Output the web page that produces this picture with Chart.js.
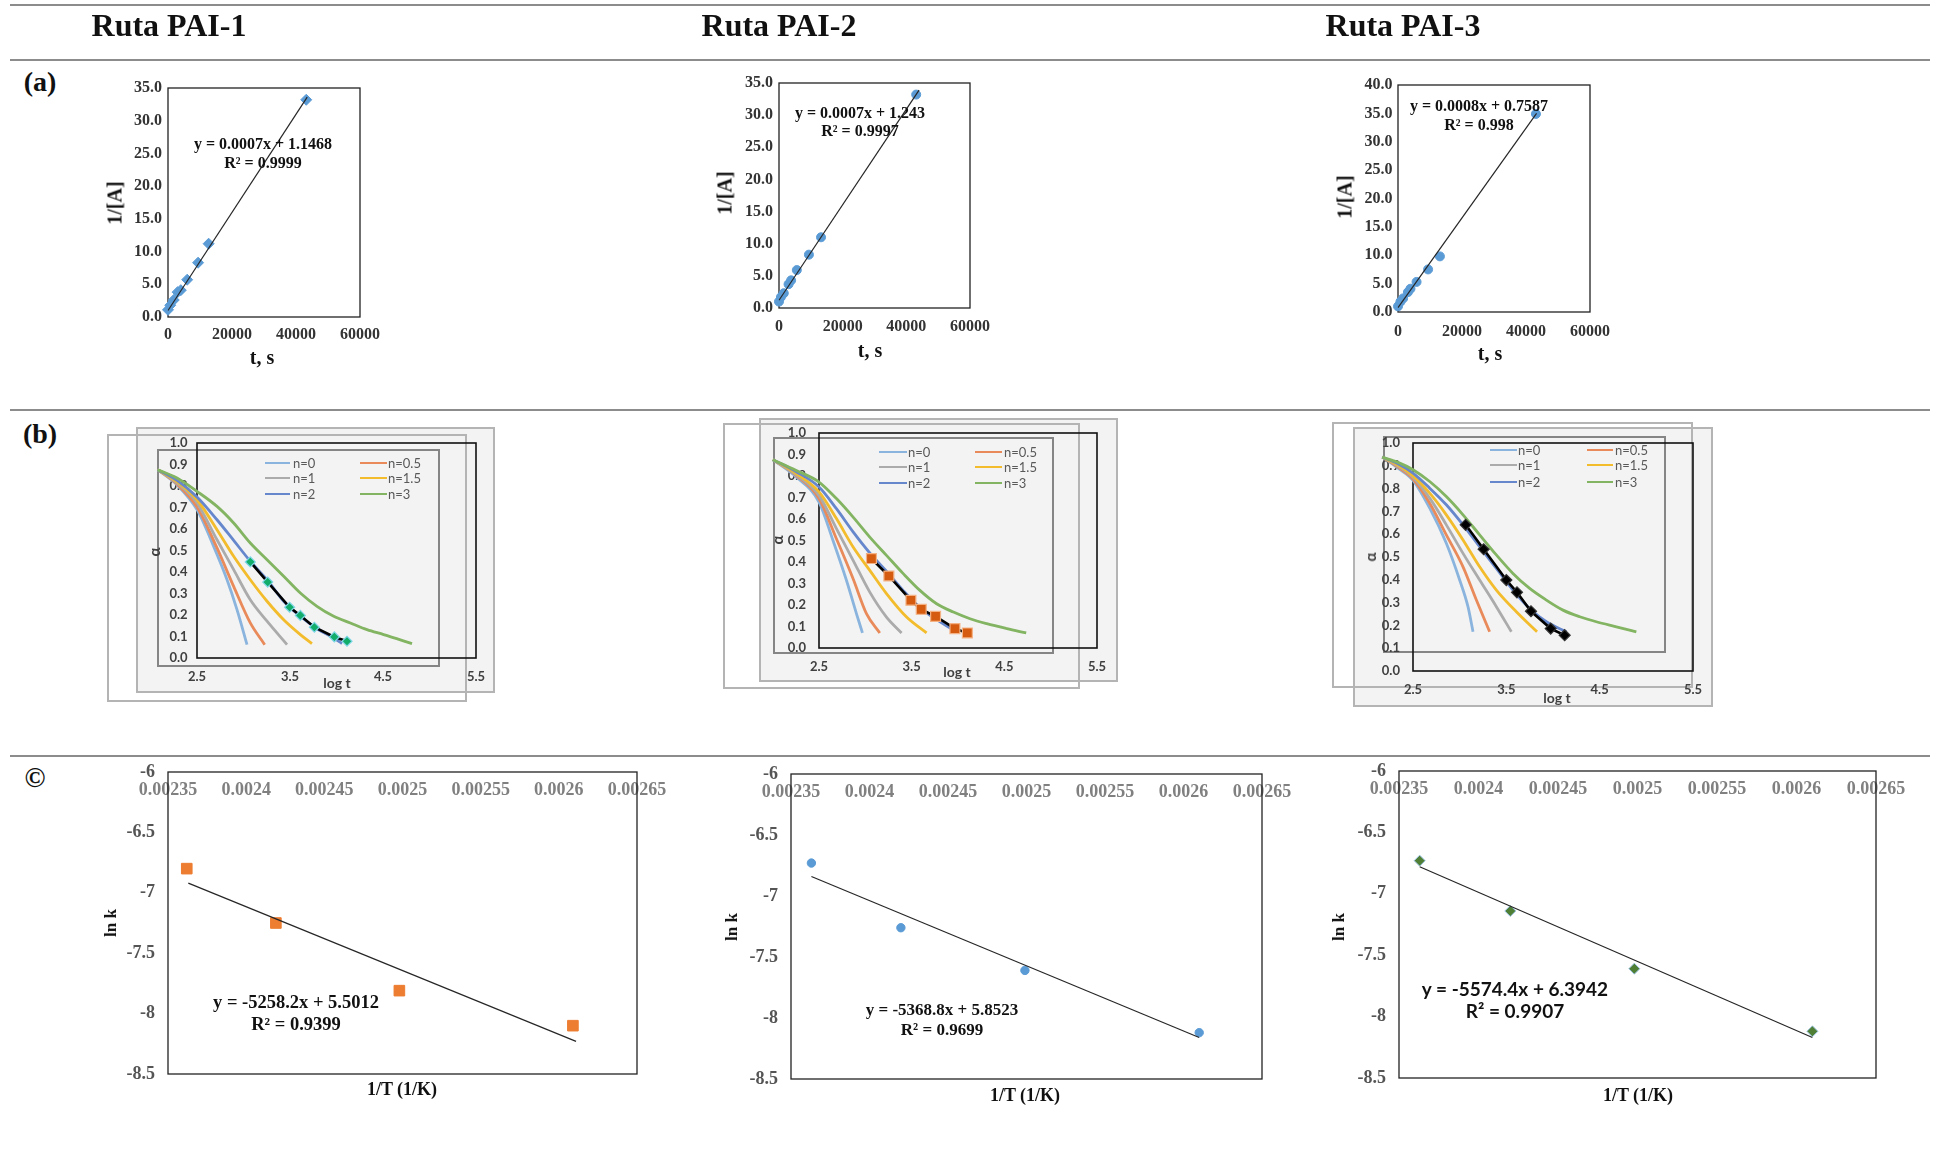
<!DOCTYPE html>
<html lang="es">
<head>
<meta charset="UTF-8">
<title>Cinética - Rutas PAI</title>
<script src="https://cdn.jsdelivr.net/npm/chart.js"></script>
<style>
    body { margin: 0; background: #fff; }
    #page { position: relative; width: 1937px; height: 1149px; overflow: hidden; font-family: "Liberation Serif", "Times New Roman", serif; }
    .hr { position: absolute; left: 10px; width: 1920px; height: 2px; background: #8c8c8c; }
    .txt { position: absolute; transform: translate(-50%, -50%); white-space: nowrap; font-weight: bold; color: #111; z-index: 2; }
    .rot { transform: translate(-50%, -50%) rotate(-90deg); }
    .sans { font-family: Lato, "Liberation Sans", sans-serif; color: #404040; }
    .caja { position: absolute; box-sizing: border-box; z-index: 0; }
    .legline { position: absolute; height: 2.8px; z-index: 2; }
    .legtxt { position: absolute; transform: translateY(-50%); font: 13px Lato, "Liberation Sans", sans-serif; color: #595959; white-space: nowrap; z-index: 2; }
    canvas { position: absolute; z-index: 1; }
</style>
</head>
<body>
<div id="page">
    <!-- lineas de la tabla -->
    <div class="hr" style="top:4px"></div>
    <div class="hr" style="top:59px"></div>
    <div class="hr" style="top:409px"></div>
    <div class="hr" style="top:755px"></div>

    <!-- encabezados -->
    <div class="txt" style="left:169px;top:25px;font-size:32px">Ruta PAI-1</div>
    <div class="txt" style="left:779px;top:25px;font-size:32px">Ruta PAI-2</div>
    <div class="txt" style="left:1403px;top:25px;font-size:32px">Ruta PAI-3</div>
    <div class="txt" style="left:40px;top:82px;font-size:28px">(a)</div>
    <div class="txt" style="left:40px;top:434px;font-size:28px">(b)</div>
    <div class="txt" style="left:35px;top:778px;font-size:28px">©</div>

    <!-- fila (a) -->
    <div class="txt" style="left:263px;top:144px;font-size:16px">y = 0.0007x + 1.1468</div>
    <div class="txt" style="left:263px;top:163px;font-size:16px">R² = 0.9999</div>
    <div class="txt" style="left:860px;top:113px;font-size:16px">y = 0.0007x + 1.243</div>
    <div class="txt" style="left:860px;top:131px;font-size:16px">R² = 0.9997</div>
    <div class="txt" style="left:1479px;top:106px;font-size:16px">y = 0.0008x + 0.7587</div>
    <div class="txt" style="left:1479px;top:125px;font-size:16px">R² = 0.998</div>
    <div class="txt" style="left:262px;top:357px;font-size:20px">t, s</div>
    <div class="txt" style="left:870px;top:350px;font-size:20px">t, s</div>
    <div class="txt" style="left:1490px;top:353px;font-size:20px">t, s</div>
    <div class="txt rot" style="left:115px;top:203px;font-size:20px">1/[A]</div>
    <div class="txt rot" style="left:725px;top:193px;font-size:20px">1/[A]</div>
    <div class="txt rot" style="left:1345px;top:197px;font-size:20px">1/[A]</div>

    <!-- fila (b) -->
    <div class="txt sans" style="left:337px;top:682px;font-size:14px">log t</div>
    <div class="txt sans" style="left:957px;top:671px;font-size:14px">log t</div>
    <div class="txt sans" style="left:1557px;top:697px;font-size:14px">log t</div>
    <div class="txt sans rot" style="left:154px;top:552px;font-size:15px">α</div>
    <div class="txt sans rot" style="left:777px;top:540px;font-size:15px">α</div>
    <div class="txt sans rot" style="left:1370px;top:557px;font-size:15px">α</div>

    <!-- fila (c) -->
    <div class="txt" style="left:296px;top:1002px;font-size:18.5px">y = -5258.2x + 5.5012</div>
    <div class="txt" style="left:296px;top:1024px;font-size:18.5px">R² = 0.9399</div>
    <div class="txt" style="left:942px;top:1010px;font-size:17px">y = -5368.8x + 5.8523</div>
    <div class="txt" style="left:942px;top:1030px;font-size:17px">R² = 0.9699</div>
    <div class="txt sans" style="left:1515px;top:988px;font-size:19px;color:#111">y = -5574.4x + 6.3942</div>
    <div class="txt sans" style="left:1515px;top:1010px;font-size:19px;color:#111">R² = 0.9907</div>
    <div class="txt" style="left:402px;top:1089px;font-size:18px">1/T (1/K)</div>
    <div class="txt" style="left:1025px;top:1095px;font-size:18px">1/T (1/K)</div>
    <div class="txt" style="left:1638px;top:1095px;font-size:18px">1/T (1/K)</div>
    <div class="txt rot" style="left:111px;top:923px;font-size:17px">ln k</div>
    <div class="txt rot" style="left:732px;top:927px;font-size:17px">ln k</div>
    <div class="txt rot" style="left:1339px;top:927px;font-size:17px">ln k</div>
</div>

<script>
    // ---------- Fila (a): 1/[A] frente a t ----------
    const tA1 = [0, 700, 1800, 3000, 4000, 6000, 9400, 12700, 43200];
    const invA1 = [1.1, 1.8, 2.6, 3.8, 4.1, 5.7, 8.3, 11.2, 33.2];
    const tA2 = [0, 600, 1500, 3000, 3800, 5600, 9400, 13200, 43100];
    const invA2 = [1.0, 1.7, 2.3, 3.7, 4.3, 5.9, 8.3, 11.0, 33.2];
    const tA3 = [0, 750, 1600, 3100, 3900, 5800, 9400, 13100, 43100];
    const invA3 = [1.0, 1.8, 2.4, 3.5, 4.1, 5.3, 7.5, 9.8, 34.9];

    // líneas de tendencia (extremos)
    const trendA1X = [0, 43500], trendA1Y = [1.0, 33.6];
    const trendA2X = [0, 44000], trendA2Y = [1.2, 33.9];
    const trendA3X = [0, 43300], trendA3Y = [0.76, 35.0];

    const tickT = [0, 20000, 40000, 60000];
    const labT = ['0', '20000', '40000', '60000'];
    const tickInvA = [0, 5, 10, 15, 20, 25, 30, 35];
    const labInvA = ['0.0', '5.0', '10.0', '15.0', '20.0', '25.0', '30.0', '35.0'];
    const tickInvA3 = [0, 5, 10, 15, 20, 25, 30, 35, 40];
    const labInvA3 = ['0.0', '5.0', '10.0', '15.0', '20.0', '25.0', '30.0', '35.0', '40.0'];

    // ---------- Fila (b): alfa frente a log t ----------
    const nombresN = ['n=0', 'n=0.5', 'n=1', 'n=1.5', 'n=2', 'n=3'];

    const b1LogT = [
        [2.077, 2.285, 2.5, 2.679, 2.823, 2.930, 3.038],
        [2.077, 2.285, 2.5, 2.715, 2.894, 3.073, 3.228],
        [2.077, 2.285, 2.5, 2.715, 2.894, 3.073, 3.253, 3.468],
        [2.077, 2.285, 2.5, 2.715, 2.894, 3.073, 3.253, 3.432, 3.611, 3.736],
        [2.077, 2.285, 2.5, 2.715, 2.894, 3.073, 3.253, 3.432, 3.611, 3.79, 3.97, 4.059],
        [2.077, 2.285, 2.5, 2.715, 2.894, 3.073, 3.253, 3.432, 3.611, 3.79, 3.97, 4.149, 4.328, 4.507, 4.812]
    ];
    const b1Alfa = [
        [0.876, 0.805, 0.690, 0.519, 0.364, 0.225, 0.062],
        [0.876, 0.809, 0.702, 0.512, 0.333, 0.163, 0.062],
        [0.876, 0.814, 0.721, 0.55, 0.411, 0.271, 0.171, 0.062],
        [0.876, 0.820, 0.736, 0.597, 0.473, 0.364, 0.264, 0.178, 0.109, 0.067],
        [0.876, 0.826, 0.749, 0.643, 0.547, 0.450, 0.364, 0.264, 0.194, 0.136, 0.093, 0.067],
        [0.876, 0.837, 0.775, 0.705, 0.628, 0.535, 0.457, 0.38, 0.302, 0.24, 0.194, 0.163, 0.132, 0.109, 0.067]
    ];
    const b1ExpLogT = [3.073, 3.26, 3.496, 3.611, 3.762, 3.977, 4.113];
    const b1ExpAlfa = [0.447, 0.353, 0.236, 0.198, 0.143, 0.098, 0.078];

    const b2LogT = [
        [2.002, 2.255, 2.5, 2.651, 2.796, 2.904, 2.969],
        [2.002, 2.255, 2.5, 2.688, 2.868, 3.012, 3.156],
        [2.002, 2.255, 2.5, 2.688, 2.868, 3.048, 3.228, 3.391],
        [2.002, 2.255, 2.5, 2.688, 2.868, 3.048, 3.228, 3.445, 3.661],
        [2.002, 2.255, 2.5, 2.688, 2.868, 3.048, 3.228, 3.409, 3.589, 3.769, 3.968],
        [2.002, 2.255, 2.5, 2.688, 2.868, 3.048, 3.228, 3.409, 3.589, 3.769, 3.95, 4.13, 4.31, 4.527, 4.736]
    ];
    const b2Alfa = [
        [0.876, 0.795, 0.679, 0.5, 0.315, 0.16, 0.07],
        [0.876, 0.802, 0.695, 0.508, 0.322, 0.16, 0.07],
        [0.876, 0.806, 0.71, 0.555, 0.408, 0.26, 0.144, 0.07],
        [0.876, 0.811, 0.726, 0.602, 0.47, 0.361, 0.253, 0.144, 0.07],
        [0.876, 0.820, 0.749, 0.648, 0.54, 0.442, 0.357, 0.267, 0.188, 0.132, 0.079],
        [0.876, 0.826, 0.772, 0.695, 0.609, 0.516, 0.431, 0.346, 0.268, 0.206, 0.167, 0.136, 0.113, 0.09, 0.07]
    ];
    const b2ExpLogT = [3.066, 3.254, 3.492, 3.603, 3.758, 3.967, 4.101];
    const b2ExpAlfa = [0.416, 0.335, 0.222, 0.18, 0.147, 0.09, 0.07];

    const b3LogT = [
        [2.171, 2.339, 2.5, 2.679, 2.857, 3.0, 3.089, 3.143],
        [2.171, 2.339, 2.5, 2.679, 2.857, 3.036, 3.179, 3.321],
        [2.171, 2.339, 2.5, 2.679, 2.857, 3.036, 3.214, 3.393, 3.554],
        [2.171, 2.339, 2.5, 2.679, 2.857, 3.036, 3.214, 3.393, 3.607, 3.829],
        [2.171, 2.339, 2.5, 2.679, 2.857, 3.036, 3.214, 3.393, 3.571, 3.75, 3.929, 4.143],
        [2.171, 2.339, 2.5, 2.679, 2.857, 3.036, 3.214, 3.393, 3.571, 3.75, 3.929, 4.107, 4.286, 4.464, 4.679, 4.893]
    ];
    const b3Alfa = [
        [0.938, 0.89, 0.836, 0.714, 0.56, 0.399, 0.282, 0.172],
        [0.938, 0.894, 0.842, 0.736, 0.597, 0.457, 0.311, 0.172],
        [0.938, 0.899, 0.85, 0.758, 0.641, 0.516, 0.399, 0.282, 0.172],
        [0.938, 0.903, 0.856, 0.78, 0.685, 0.575, 0.457, 0.355, 0.26, 0.172],
        [0.938, 0.909, 0.868, 0.802, 0.729, 0.641, 0.545, 0.45, 0.355, 0.274, 0.216, 0.172],
        [0.938, 0.915, 0.883, 0.831, 0.765, 0.685, 0.597, 0.509, 0.428, 0.362, 0.311, 0.267, 0.238, 0.216, 0.194, 0.172]
    ];
    const b3ExpLogT = [3.064, 3.257, 3.5, 3.614, 3.764, 3.975, 4.125];
    const b3ExpAlfa = [0.641, 0.534, 0.399, 0.345, 0.262, 0.186, 0.157];

    const tickLogT = [2.5, 3.5, 4.5, 5.5];
    const labLogT = ['2.5', '3.5', '4.5', '5.5'];
    const tickAlfa = [0, 0.1, 0.2, 0.3, 0.4, 0.5, 0.6, 0.7, 0.8, 0.9, 1.0];
    const labAlfa = ['0.0', '0.1', '0.2', '0.3', '0.4', '0.5', '0.6', '0.7', '0.8', '0.9', '1.0'];

    // ---------- Fila (c): ln k frente a 1/T ----------
    const invT1 = [0.002362, 0.002419, 0.002498, 0.002609];
    const lnK1 = [-6.80, -7.25, -7.81, -8.10];
    const invT2 = [0.002363, 0.00242, 0.002499, 0.00261];
    const lnK2 = [-6.73, -7.26, -7.61, -8.12];
    const invT3 = [0.002363, 0.00242, 0.002498, 0.00261];
    const lnK3 = [-6.73, -7.14, -7.61, -8.12];

    const trendC1X = [0.002363, 0.002611], trendC1Y = [-6.92, -8.23];
    const trendC2X = [0.002363, 0.00261], trendC2Y = [-6.84, -8.16];
    const trendC3X = [0.002363, 0.00261], trendC3Y = [-6.78, -8.17];

    const tickInvT = [0.00235, 0.0024, 0.00245, 0.0025, 0.00255, 0.0026, 0.00265];
    const labInvT = ['0.00235', '0.0024', '0.00245', '0.0025', '0.00255', '0.0026', '0.00265'];
    const tickLnK = [-8.5, -8, -7.5, -7, -6.5, -6];
    const labLnK = ['-8.5', '-8', '-7.5', '-7', '-6.5', '-6'];

    // ---------- estilos ----------
    const coloresN = ['#8AB4DD', '#E98A5A', '#ABABAB', '#F3BC2C', '#6687CC', '#82B461'];
    const serifB = s => ({ family: '"Liberation Serif", "Times New Roman", serif', size: s, weight: 'bold' });
    const sansB = s => ({ family: 'Lato, "Liberation Sans", sans-serif', size: s, weight: 'bold' });

    const page = document.getElementById('page');
    const M = 80; // margen alrededor del área de trazado

    // marco negro alrededor del área de trazado
    const marcoPlugin = {
        id: 'marco',
        beforeDatasetsDraw(chart, args, opts) {
            const a = chart.chartArea, ctx = chart.ctx;
            ctx.save();
            ctx.strokeStyle = opts.color || '#000';
            ctx.lineWidth = opts.width || 1;
            ctx.strokeRect(a.left, a.top, a.right - a.left, a.bottom - a.top);
            ctx.restore();
        }
    };

    function eje(dir, pos, min, max, vals, labs, font, color, pad, espejo) {
        return {
            type: 'linear', position: pos, bounds: 'data',
            grid: { display: false, drawTicks: false }, border: { display: false },
            afterDataLimits(s) { s.min = min; s.max = max; },
            afterBuildTicks(s) { s.ticks = vals.map(v => ({ value: v })); },
            afterFit(s) {
                if (dir === 'x') s.height = M; else s.width = M;
                s.paddingLeft = s.paddingRight = s.paddingTop = s.paddingBottom = 0;
            },
            ticks: { autoSkip: false, maxRotation: 0, minRotation: 0, padding: pad, color: color, font: font,
                mirror: !!espejo, callback: (v, i) => labs[i] }
        };
    }

    function grafico(box, datasets, ejeX, ejeY, marco) {
        const l = Math.round(box[0]), t = Math.round(box[1]), r = Math.round(box[2]), b = Math.round(box[3]);
        const W = r - l + 2 * M, H = b - t + 2 * M;
        const cv = document.createElement('canvas');
        cv.width = W; cv.height = H;
        cv.style.left = (l - M) + 'px'; cv.style.top = (t - M) + 'px';
        cv.style.width = W + 'px'; cv.style.height = H + 'px';
        page.appendChild(cv);
        const arriba = ejeX.position === 'top';
        return new Chart(cv, {
            type: 'scatter',
            data: { datasets: datasets },
            options: {
                responsive: false, animation: false, devicePixelRatio: 1,
                layout: { autoPadding: false, padding: { left: 0, right: M, top: arriba ? 0 : M, bottom: arriba ? M : 0 } },
                elements: { line: { capBezierPoints: false } },
                scales: { x: ejeX, y: ejeY },
                plugins: { legend: { display: false }, tooltip: { enabled: false }, marco: marco }
            },
            plugins: [marcoPlugin]
        });
    }

    const pts = (xs, ys) => xs.map((x, i) => ({ x: x, y: ys[i] }));

    function marcas(xs, ys, estilo, relleno, borde, r) {
        return { data: pts(xs, ys), showLine: false, pointStyle: estilo, pointRadius: r,
            backgroundColor: relleno, borderColor: borde, borderWidth: 1 };
    }
    function tendencia(xs, ys) {
        return { data: pts(xs, ys), showLine: true, borderColor: '#262626', borderWidth: 1.2, pointRadius: 0 };
    }
    function curva(xs, ys, color) {
        return { data: pts(xs, ys), showLine: true, borderColor: color, borderWidth: 2.8, pointRadius: 0,
            cubicInterpolationMode: 'monotone', clip: false };
    }
    function experimental(xs, ys, estilo, relleno, borde, r) {
        return { data: pts(xs, ys), showLine: true, borderColor: '#000', borderWidth: 2.6,
            pointStyle: estilo, pointRadius: r, pointBackgroundColor: relleno, pointBorderColor: borde,
            pointBorderWidth: 1.2, clip: false };
    }

    function caja(l, t, r, b, borde, fondo) {
        const d = document.createElement('div');
        d.className = 'caja';
        d.style.cssText = `left:${l}px;top:${t}px;width:${r - l}px;height:${b - t}px;border:${borde};background:${fondo}`;
        page.appendChild(d);
    }

    function leyenda(c1, c2, filas) {
        nombresN.forEach((nom, i) => {
            const c = i % 2 === 0 ? c1 : c2;
            const y = filas[Math.floor(i / 2)];
            const ln = document.createElement('div');
            ln.className = 'legline';
            ln.style.cssText = `left:${c[0]}px;top:${y - 1.4}px;width:${c[1] - c[0]}px;background:${coloresN[i]}`;
            const tx = document.createElement('div');
            tx.className = 'legtxt';
            tx.style.cssText = `left:${c[2]}px;top:${y}px`;
            tx.textContent = nom;
            page.append(ln, tx);
        });
    }

    // ---------- fila (a) ----------
    const marcoA = { color: '#222', width: 1.3 };
    grafico([167.7, 88.3, 360, 316.7],
        [tendencia(trendA1X, trendA1Y), marcas(tA1, invA1, 'rectRot', '#5B9BD5', '#5B9BD5', 5.5)],
        eje('x', 'bottom', 0, 60000, tickT, labT, serifB(16), '#333', 8.7),
        eje('y', 'left', 0, 35, tickInvA, labInvA, serifB(16), '#333', 6), marcoA);
    grafico([778.7, 82.7, 970, 308.3],
        [tendencia(trendA2X, trendA2Y), marcas(tA2, invA2, 'circle', '#5B9BD5', '#5B9BD5', 4.5)],
        eje('x', 'bottom', 0, 60000, tickT, labT, serifB(16), '#333', 8.8),
        eje('y', 'left', 0, 35, tickInvA, labInvA, serifB(16), '#333', 6), marcoA);
    grafico([1398.3, 85, 1590, 311.7],
        [tendencia(trendA3X, trendA3Y), marcas(tA3, invA3, 'circle', '#5B9BD5', '#5B9BD5', 4.5)],
        eje('x', 'bottom', 0, 60000, tickT, labT, serifB(16), '#333', 10.4),
        eje('y', 'left', 0, 40, tickInvA3, labInvA3, serifB(16), '#333', 5.6), marcoA);

    // ---------- fila (b) ----------
    const bordeGris = '2px solid #b4b4b4', fondoGris = '#f3f3f3', bordeMarco = '2px solid #858585';
    caja(136, 427, 495, 693, bordeGris, fondoGris);
    caja(107, 434, 467, 702, bordeGris, 'transparent');
    caja(157, 449, 440, 667, bordeMarco, 'transparent');
    caja(759, 418, 1118, 682, bordeGris, fondoGris);
    caja(723, 423, 1080, 689, bordeGris, 'transparent');
    caja(773, 437, 1054, 654, bordeMarco, 'transparent');
    caja(1353, 427, 1713, 707, bordeGris, fondoGris);
    caja(1332, 422, 1693, 688, bordeGris, 'transparent');
    caja(1383, 436, 1666, 653, bordeMarco, 'transparent');

    const marcoB = { color: '#111', width: 1.6 };
    function panelB(box, logT, alfa, exp, padY, padX) {
        const sets = [exp];
        for (let i = nombresN.length - 1; i >= 0; i--) sets.push(curva(logT[i], alfa[i], coloresN[i]));
        grafico(box, sets,
            eje('x', 'bottom', 2.5, 5.5, tickLogT, labLogT, sansB(13), '#404040', padX),
            eje('y', 'left', 0, 1, tickAlfa, labAlfa, sansB(13), '#404040', padY), marcoB);
    }
    panelB([196.7, 443.3, 476, 658.3], b1LogT, b1Alfa,
        experimental(b1ExpLogT, b1ExpAlfa, 'rectRot', '#13AD6B', '#7FD6E8', 5), 9.4, 10.6);
    panelB([819.3, 432.7, 1096.7, 647.7], b2LogT, b2Alfa,
        experimental(b2ExpLogT, b2ExpAlfa, 'rect', '#D45B0F', '#F4B183', 7), 13, 11.2);
    panelB([1413.3, 443.3, 1693.3, 670.7], b3LogT, b3Alfa,
        experimental(b3ExpLogT, b3ExpAlfa, 'rectRot', '#000', '#333', 5.5), 13, 10.8);

    leyenda([265, 290, 293], [360, 387, 388], [463, 478, 494]);
    leyenda([879, 907, 908], [975, 1002, 1004], [452, 467, 483]);
    leyenda([1490, 1517, 1518], [1587, 1613, 1615], [450, 465, 482]);

    // ---------- fila (c) ----------
    const marcoC = { color: '#222', width: 1.3 };
    function panelC(box, xs, ys, tx, ty, estilo, relleno, borde, r) {
        grafico(box, [tendencia(tx, ty), marcas(xs, ys, estilo, relleno, borde, r)],
            eje('x', 'top', 0.00235, 0.00265, tickInvT, labInvT, serifB(18), '#808080', 8, true),
            eje('y', 'left', -8.5, -6, tickLnK, labLnK, serifB(18), '#555', 13), marcoC);
    }
    panelC([168.3, 771.7, 636.7, 1074], invT1, lnK1, trendC1X, trendC1Y, 'rect', '#ED7D31', '#ED7D31', 7.5);
    panelC([790.7, 774, 1261.7, 1079.3], invT2, lnK2, trendC2X, trendC2Y, 'circle', '#5B9BD5', '#5B9BD5', 4.2);
    panelC([1399.2, 770.7, 1875.6, 1078.3], invT3, lnK3, trendC3X, trendC3Y, 'rectRot', '#4F7F35', '#9DC3E6', 5.5);
</script>
</body>
</html>
